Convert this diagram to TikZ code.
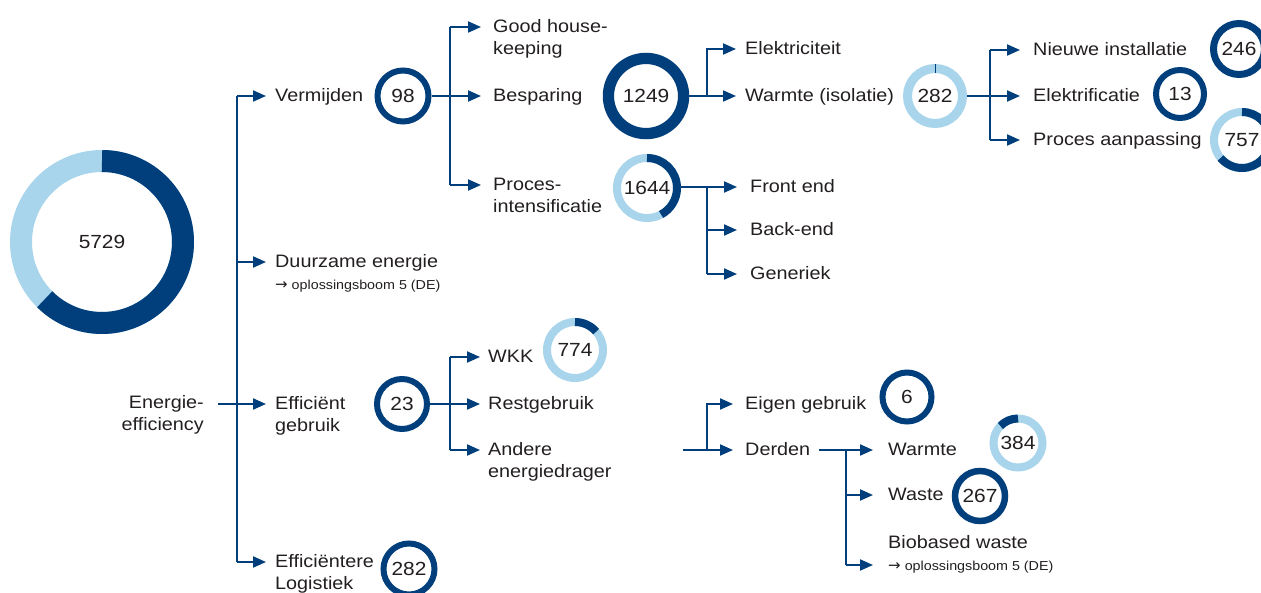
\documentclass[tikz,border=0pt]{standalone}
\usepackage{fontspec}
\setmainfont{Liberation Sans}[FakeStretch=1.1]
\newfontfamily\arrfont{DejaVu Sans}
\usetikzlibrary{arrows.meta}
\definecolor{dk}{HTML}{003F7B}
\definecolor{lt}{HTML}{A9D5EC}
\definecolor{txt}{HTML}{231F20}
\newcommand\lblfont{\fontsize{18pt}{22pt}\selectfont}
\newcommand\numfont{\fontsize{19pt}{22pt}\selectfont}
\newcommand\smallfont{\fontsize{13pt}{16pt}\selectfont}
\newcommand\refarrow{{\arrfont\fontsize{15pt}{16pt}\selectfont →}}
\newcommand\twol[2]{\begin{tabular}[t]{@{}l@{}}#1\\#2\end{tabular}}
\newcommand\twor[2]{\begin{tabular}[t]{@{}r@{}}#1\\#2\end{tabular}}
\newcommand\twob[2]{\begin{tabular}[b]{@{}l@{}}#1\\#2\end{tabular}}
\tikzset{
 ln/.style={dk, line width=2pt},
 arr/.style={ln, -{Triangle[length=13pt,width=11pt]}},
 lbl/.style={anchor=west, inner sep=0pt, text height=9.4pt, text depth=0pt, text=txt, font=\lblfont},
 lblr/.style={lbl, anchor=east},
 num/.style={circle, inner sep=0pt, text=txt, font=\numfont},
}
% name, x, y, centre radius, width, text
\newcommand\fullring[6]{%
 \node[num, minimum size={2*#4+#5}] (#1) at (#2,-#3) {#6};
 \draw[dk, line width=#5] (#1.center) circle[radius=#4];}
% name, x, y, centre radius, width, text, dark start, dark end
\newcommand\partring[8]{%
 \node[num, minimum size={2*#4+#5}] (#1) at (#2,-#3) {#6};
 \draw[lt, line width=#5] (#1.center) circle[radius=#4];
 \draw[dk, line width=#5] ([shift={(#7:#4)}]#1.center) arc[start angle=#7, end angle=#8, radius=#4];}
\begin{document}
\begin{tikzpicture}[x=1pt,y=1pt]
\useasboundingbox[fill=white] (0,0) rectangle (1261,-593);

% big donut
\partring{c5729}{102}{242}{81}{22}{5729}{90}{-135}

% root label
\node[lblr] (lEE) at (204,-404) {\twor{Energie-}{efficiency}};

% spine
\coordinate (m1) at (237,-96);
\coordinate (m2) at (237,-262);
\coordinate (m3) at (237,-404);
\coordinate (m4) at (237,-562);
\draw[ln] (m1) -- (m4);

% level 1 labels
\node[lbl] (lVerm) at (275,-97) {Vermijden};
\node[lbl] (lDuur) at (275,-263) {\twol{Duurzame energie}{\smallfont\refarrow\ oplossingsboom 5 (DE)}};
\node[lbl] (lEff) at (275,-405) {\twol{Efficiënt}{gebruik}};
\node[lbl] (lLog) at (275,-563) {\twol{Efficiëntere}{Logistiek}};

\draw[arr, shorten >=9pt] (m1) -- (m1 -| lVerm.west);
\draw[arr, shorten >=9pt] (m2) -- (m2 -| lDuur.west);
\draw[arr, shorten >=9pt] ([xshift=14pt]lEE.east) -- (m3 -| lEff.west);
\draw[arr, shorten >=9pt] (m4) -- (m4 -| lLog.west);

% level 1 values
\fullring{c98}{403}{96}{25.5}{6}{98}
\fullring{c23}{402}{404}{25}{6}{23}
\fullring{c282L}{409}{569}{25.5}{6}{282}

% Vermijden branch
\coordinate (g1) at (450,-27);
\coordinate (g2) at (450,-96);
\coordinate (g3) at (450,-185);
\node[lbl] (lGood) at (493,-28) {\twol{Good house-}{keeping}};
\node[lbl] (lBesp) at (493,-97) {Besparing};
\node[lbl] (lProc) at (493,-186) {\twol{Proces-}{intensificatie}};
\draw[ln] (g1) -- (g3);
\draw[arr, shorten >=12pt] (c98.east) -- (g2 -| lBesp.west);
\draw[arr, shorten >=12pt] (g1) -- (g1 -| lGood.west);
\draw[arr, shorten >=12pt] (g3) -- (g3 -| lProc.west);

% Besparing
\fullring{c1249}{646}{96}{37.6}{11.3}{1249}
\coordinate (e1) at (707,-96);
\coordinate (e0) at (707,-49);
\node[lbl] (lElek) at (745,-50) {Elektriciteit};
\node[lbl] (lWarm) at (745,-97) {Warmte (isolatie)};
\draw[arr, shorten >=9pt] (c1249.east) -- (e1 -| lWarm.west);
\draw[arr, shorten >=9pt] (e1) -- (e0) -- (e0 -| lElek.west);

% Warmte (isolatie)
\partring{c282W}{935}{96}{27.5}{9}{282}{91}{89}
\coordinate (w1) at (990,-50);
\coordinate (w2) at (990,-96);
\coordinate (w3) at (990,-140);
\node[lbl] (lNieuw) at (1033,-51) {Nieuwe installatie};
\node[lbl] (lElektr) at (1033,-97) {Elektrificatie};
\node[lbl] (lProcA) at (1033,-141) {Proces aanpassing};
\draw[ln] (w1) -- (w3);
\draw[arr, shorten >=13pt] (c282W.east) -- (w2 -| lElektr.west);
\draw[arr, shorten >=13pt] (w1) -- (w1 -| lNieuw.west);
\draw[arr, shorten >=13pt] (w3) -- (w3 -| lProcA.west);
\fullring{c246}{1239}{49}{25.5}{7}{246}
\fullring{c13}{1180}{94}{24}{6}{13}
\partring{c757}{1242}{140}{28}{8}{757}{90}{-140}

% Procesintensificatie
\partring{c1644}{647}{188}{30}{8}{1644}{90}{-62}
\coordinate (f1) at (707,-187);
\coordinate (f2) at (707,-230);
\coordinate (f3) at (707,-274);
\node[lbl] (lFront) at (750,-188) {Front end};
\node[lbl] (lBack) at (750,-231) {Back-end};
\node[lbl] (lGen) at (750,-275) {Generiek};
\draw[ln] (f1) -- (f3);
\draw[arr, shorten >=13pt] (c1644.east |- f1) -- (f1 -| lFront.west);
\draw[arr, shorten >=13pt] (f2) -- (f2 -| lBack.west);
\draw[arr, shorten >=13pt] (f3) -- (f3 -| lGen.west);

% Efficient gebruik
\coordinate (k1) at (450,-357);
\coordinate (k2) at (450,-404);
\coordinate (k3) at (450,-450);
\node[lbl] (lWKK) at (488,-358) {WKK};
\node[lbl] (lRest) at (488,-405) {Restgebruik};
\node[lbl] (lAnd) at (488,-451) {\twol{Andere}{energiedrager}};
\draw[ln] (k1) -- (k3);
\draw[arr, shorten >=8pt] (c23.east) -- (k2 -| lRest.west);
\draw[arr, shorten >=8pt] (k1) -- (k1 -| lWKK.west);
\draw[arr, shorten >=8pt] (k3) -- (k3 -| lAnd.west);
\partring{c774}{575}{350}{28}{8}{774}{90}{41}

% Eigen gebruik / Derden
\coordinate (s1) at (683,-450);
\coordinate (d1) at (707,-450);
\coordinate (d0) at (707,-404);
\node[lbl] (lEigen) at (745,-405) {Eigen gebruik};
\node[lbl] (lDerden) at (745,-451) {Derden};
\draw[arr, shorten >=12pt] (s1) -- (s1 -| lDerden.west);
\draw[arr, shorten >=12pt] (d1) -- (d0) -- (d0 -| lEigen.west);
\fullring{c6}{907}{397}{24.5}{6}{6}

% Derden branch
\coordinate (r1) at (846,-450);
\coordinate (r2) at (846,-495);
\coordinate (r3) at (846,-565);
\node[lbl] (lWarmte) at (888,-451) {Warmte};
\node[lbl] (lWaste) at (888,-496) {Waste};
\node[lbl] (lBio) at (888,-566) {\twob{Biobased waste}{\smallfont\refarrow\ oplossingsboom 5 (DE)}};
\draw[ln] (r1) -- (r3);
\draw[arr, shorten >=15pt] ([xshift=9pt]lDerden.east |- r1) -- (r1 -| lWarmte.west);
\draw[arr, shorten >=15pt] (r2) -- (r2 -| lWaste.west);
\draw[arr, shorten >=15pt] (r3) -- (r3 -| lBio.west);
\partring{c384}{1018}{443}{24.5}{8}{384}{90}{136}
\fullring{c267}{980}{496}{25}{6.5}{267}
\end{tikzpicture}
\end{document}
